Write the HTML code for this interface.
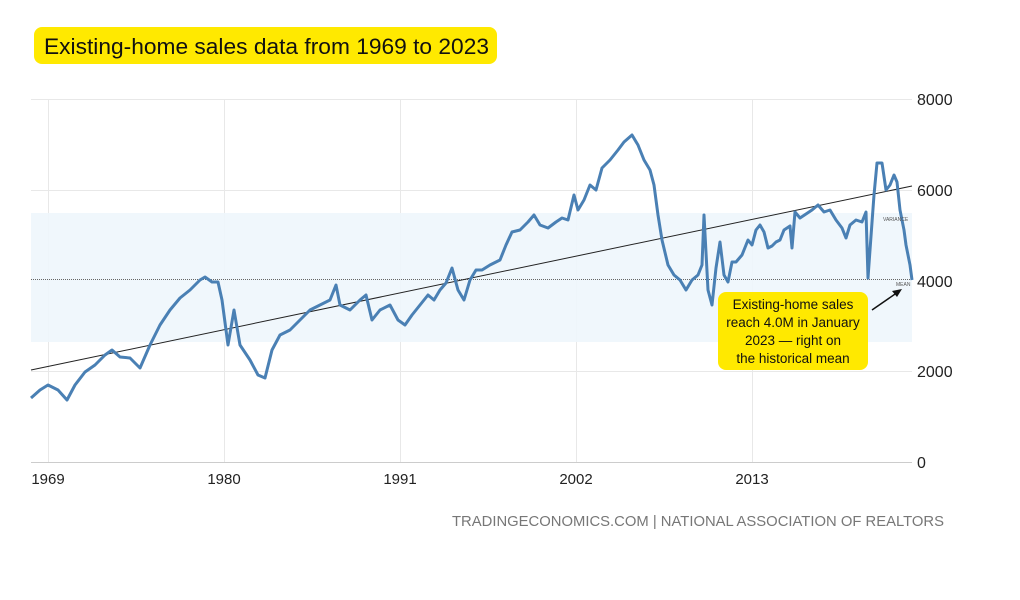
<!DOCTYPE html>
<html><head><meta charset="utf-8"><style>
body{margin:0;background:#fff;width:1020px;height:595px;overflow:hidden;font-family:"Liberation Sans",sans-serif}
</style></head><body>
<svg width="1020" height="595" xmlns="http://www.w3.org/2000/svg">
<rect x="34" y="27" width="463" height="37" rx="8" fill="#ffe900"/>
<text x="44" y="54" font-size="22" fill="#111" textLength="445" lengthAdjust="spacingAndGlyphs" font-family="Liberation Sans,sans-serif">Existing-home sales data from 1969 to 2023</text>
<g stroke="#e8e8e8" stroke-width="1">
<line x1="31" y1="99.5" x2="912" y2="99.5"/>
<line x1="31" y1="190.5" x2="912" y2="190.5"/>
<line x1="31" y1="371.5" x2="912" y2="371.5"/>
<line x1="48.5" y1="99" x2="48.5" y2="462"/>
<line x1="224.5" y1="99" x2="224.5" y2="462"/>
<line x1="400.5" y1="99" x2="400.5" y2="462"/>
<line x1="576.5" y1="99" x2="576.5" y2="462"/>
<line x1="752.5" y1="99" x2="752.5" y2="462"/>
</g>
<line x1="31" y1="462.5" x2="912" y2="462.5" stroke="#ccc"/>
<rect x="31" y="213" width="881" height="129" fill="#eef6fc" opacity="0.9"/>
<line x1="31" y1="279.5" x2="912" y2="279.5" stroke="#666" stroke-dasharray="1,1" stroke-width="1"/>
<line x1="31" y1="370" x2="912" y2="186" stroke="#222" stroke-width="1"/>
<polyline fill="none" stroke="#4a80b4" stroke-width="3" stroke-linejoin="round" points="31,398 40,390 48,385 58,390 67,400 75,385 85,372 95,365 105,355 112,350 120,357 130,358 140,368 150,345 160,325 170,310 180,298 190,290 200,280 205,277 212,282 218,282 222,300 228,345 234,310 240,345 250,360 258,375 265,378 272,350 280,335 290,330 300,320 310,310 320,305 330,300 336,285 340,305 350,310 360,300 366,295 372,320 380,310 390,305 398,320 405,325 412,315 420,305 428,295 434,300 440,290 446,283 452,268 458,290 464,300 470,280 476,270 482,270 490,265 500,260 506,245 512,232 520,230 528,222 534,215 540,225 548,228 556,222 562,218 568,220 574,195 578,210 584,200 590,185 596,190 602,168 610,160 618,150 624,142 632,135 638,145 644,160 650,170 654,185 658,215 662,240 668,265 674,275 680,280 686,290 692,280 698,275 702,265 704,215 708,290 712,305 716,268 720,242 724,275 728,282 732,262 736,262 742,255 748,240 752,245 756,230 760,225 764,232 768,248 772,246 776,242 780,240 784,230 790,226 792,248 795,212 800,218 806,214 812,210 818,205 824,212 830,210 836,220 842,228 846,238 850,225 856,220 862,222 866,212 868,278 870,250 874,195 877,163 882,163 886,190 890,185 894,175 897,182 900,210 904,230 906,245 910,265 912,280"/>
<text x="883" y="221" font-size="5" fill="#555">VARIANCE</text>
<text x="896" y="286" font-size="5" fill="#555">MEAN</text>
<g font-size="16" fill="#222">
<text x="917" y="105">8000</text>
<text x="917" y="196">6000</text>
<text x="917" y="287">4000</text>
<text x="917" y="377">2000</text>
<text x="917" y="468">0</text>
</g>
<g font-size="15" fill="#222" text-anchor="middle">
<text x="48" y="484">1969</text>
<text x="224" y="484">1980</text>
<text x="400" y="484">1991</text>
<text x="576" y="484">2002</text>
<text x="752" y="484">2013</text>
</g>
<text x="452" y="526" font-size="15" fill="#777" textLength="492" lengthAdjust="spacingAndGlyphs">TRADINGECONOMICS.COM | NATIONAL ASSOCIATION OF REALTORS</text>
<rect x="718" y="292" width="150" height="78" rx="8" fill="#ffe900"/>
<g font-size="13.5" fill="#111" text-anchor="middle">
<text x="793" y="309">Existing-home sales</text>
<text x="793" y="327">reach 4.0M in January</text>
<text x="793" y="345">2023 — right on</text>
<text x="793" y="363">the historical mean</text>
</g>
<line x1="872" y1="310" x2="898" y2="292" stroke="#111" stroke-width="1.5"/>
<polygon points="902,289 892,291 897,297" fill="#111"/>
</svg>
</body></html>
